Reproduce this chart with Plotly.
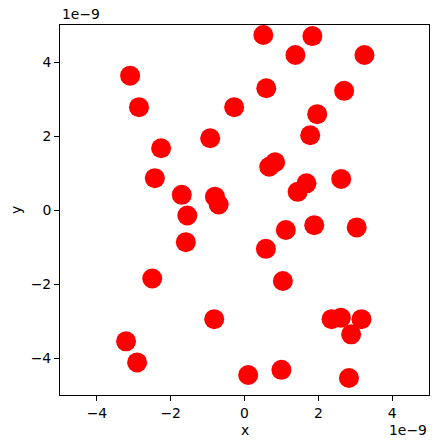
import plotly.graph_objects as go

scale = 1e-9
x_vals = [0.51, 1.84, 1.38, 3.25, -3.10, 0.59, 2.70, -2.86, -0.28, 1.97,
          -0.93, 1.78, -2.26, 0.83, 0.67, -2.43, 2.62, 1.68, 1.44, -1.70,
          -0.80, -0.70, -1.55, 1.89, 3.04, 1.12, -1.59, 0.58, 1.04, -2.50,
          -0.82, 2.36, 2.61, 3.17, 2.89, -3.21, -2.91, 1.00, 0.10, 2.83]
y_vals = [4.73, 4.70, 4.19, 4.19, 3.63, 3.29, 3.22, 2.78, 2.78, 2.59,
          1.94, 2.02, 1.67, 1.29, 1.17, 0.86, 0.84, 0.72, 0.49, 0.41,
          0.36, 0.15, -0.15, -0.41, -0.47, -0.54, -0.87, -1.05, -1.92, -1.85,
          -2.95, -2.95, -2.91, -2.95, -3.36, -3.55, -4.12, -4.32, -4.46, -4.54]
tick_vals = [-4, -2, 0, 2, 4]
tick_text = ["\u22124", "\u22122", "0", "2", "4"]

xs = [v * scale for v in x_vals]
ys = [v * scale for v in y_vals]
tv = [v * scale for v in tick_vals]

font = dict(family="DejaVu Sans", size=13.9, color="black")

fig = go.Figure(go.Scatter(
    x=xs, y=ys, mode="markers",
    marker=dict(size=20, color="red", line=dict(width=0)),
    hoverinfo="skip",
))

axis_common = dict(
    showgrid=False, zeroline=False, showline=True, linecolor="black",
    linewidth=1, mirror=True, ticks="outside", ticklen=5, tickwidth=1,
    tickcolor="black", tickfont=font, tickmode="array",
    tickvals=tv, ticktext=tick_text,
)

fig.update_layout(
    width=439, height=448,
    margin=dict(l=60, r=10, t=25, b=53),
    paper_bgcolor="white", plot_bgcolor="white",
    showlegend=False,
    xaxis=dict(range=[-5 * scale, 5 * scale], **axis_common),
    yaxis=dict(range=[-5 * scale, 5 * scale], **axis_common),
    font=font,
    annotations=[
        dict(text="1e\u22129", xref="paper", yref="paper", x=0, y=1.0,
             xanchor="left", yanchor="bottom", yshift=1, showarrow=False, font=font),
        dict(text="1e\u22129", xref="paper", yref="paper", x=1, y=-0.095,
             xanchor="right", yanchor="middle", showarrow=False, font=font),
        dict(text="x", xref="paper", yref="paper", x=0.5, y=-0.095,
             xanchor="center", yanchor="middle", showarrow=False, font=font),
        dict(text="y", xref="paper", yref="paper", x=-0.119, y=0.5,
             xanchor="center", yanchor="middle", textangle=-90,
             showarrow=False, font=font),
    ],
)

fig.write_html(
    "out.html",
    config={"displayModeBar": False},
    post_script="document.body.style.margin='0';document.body.style.overflow='hidden';",
)
